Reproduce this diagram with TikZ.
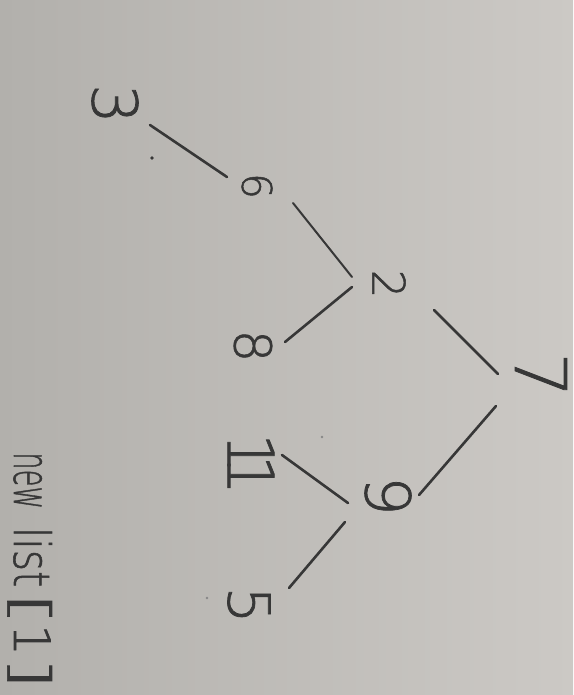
\documentclass[tikz,border=0pt]{standalone}
\usepackage{fontspec}
\setmainfont{DejaVu Sans ExtraLight}[FakeBold=1.2]
\usetikzlibrary{calc}
\definecolor{paperA}{RGB}{178,176,172}
\definecolor{paperB}{RGB}{204,201,197}
\definecolor{ink}{RGB}{55,55,55}
\begin{document}
\begin{tikzpicture}[x=1pt,y=-1pt,
  num/.style={rotate=-90,inner sep=0pt,text=ink,font=\fontsize{#1}{#1}\selectfont},
  edge/.style={draw=ink,line width=2.6pt,line cap=round},
  note/.style={rotate=-90,anchor=base west,inner sep=0pt,text=ink,font=\fontsize{50}{50}\selectfont}]
\shade[left color=paperA,right color=paperB] (0,0) rectangle (573,695);
\useasboundingbox (0,0) rectangle (573,695);
% nodes
\node[num=71] (n7) at (541,375) {7};
\node[num=45] (n2) at (389,284) {2};
\node[num=62] (n9) at (388,496) {9};
\node[num=41] (n6) at (257,186) {6};
\node[num=51] (n8) at (253,346) {8};
\node[num=64] (n11) at (251,464) {1\kern-19pt 1};
\node[num=58] (n5) at (249,605) {5};
\node[num=62] (n3) at (115,104) {3};
% edges
\draw[edge] ($(n7)+(-43,-1)$) -- ($(n2)+(45,26)$);
\draw[edge] ($(n7)+(-45,31)$) -- ($(n9)+(31,-1)$);
\draw[edge,line width=2pt] ($(n2)+(-37,-7)$) -- ($(n6)+(36,17)$);
\draw[edge] ($(n2)+(-37,3)$) -- ($(n8)+(32,-4)$);
\draw[edge] ($(n6)+(-30,-9)$) -- ($(n3)+(35,21)$);
\draw[edge] ($(n9)+(-40,7)$) -- ($(n11)+(31,-9)$);
\draw[edge] ($(n9)+(-43,26)$) -- ($(n5)+(40,-17)$);
% note
\node[note] (list) at (14,452) {\scalebox{0.55}[1]{new} \hspace{2pt}\scalebox{0.82}[1]{list} \hspace{-12pt}\scalebox{1.8}[1]{[} \hspace{-18pt}1 \hspace{-16pt}\scalebox{1.8}[1]{]}};
% stray pencil dots
\fill[ink] (152,158) circle (1.8pt);
\fill[ink!60] (322,437) circle (1.3pt);
\fill[ink!60] (207,598) circle (1.3pt);
\end{tikzpicture}
\end{document}
